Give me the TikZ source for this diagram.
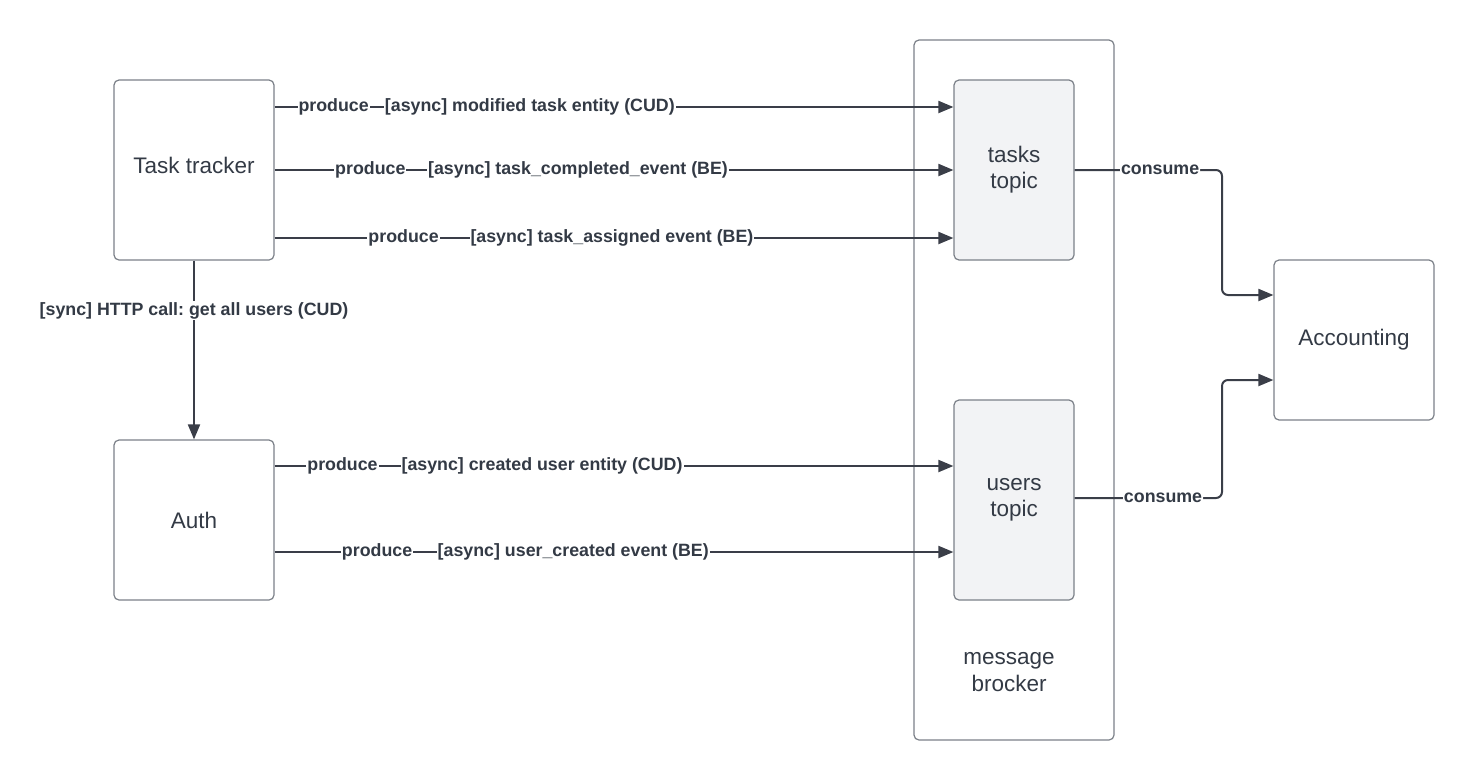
\documentclass[tikz,border=0pt]{standalone}
\usepackage{fontspec}
\setmainfont{Liberation Sans}
\usetikzlibrary{arrows.meta}
\frenchspacing

\definecolor{lineclr}{HTML}{3A3E48}
\definecolor{boxclr}{HTML}{7B8088}
\definecolor{topicfill}{HTML}{F2F3F5}
\definecolor{txtclr}{HTML}{333A45}

\tikzset{
    service/.style={draw=boxclr, line width=1.2pt, rounded corners=5pt,
        text=txtclr, font=\fontsize{22.5}{26}\selectfont, align=center},
    topic/.style={service, fill=topicfill},
    flow/.style={draw=lineclr, line width=2pt, -{Triangle[length=15pt,width=12pt]}},
    flowlabel/.style={fill=white, inner sep=1pt, text=txtclr,
        font=\bfseries\fontsize{17.8}{20}\selectfont}
}

\begin{document}
\begin{tikzpicture}[x=1pt, y=-1pt]

    \useasboundingbox (0,0) rectangle (1474,780);

    % Draw the broker frame and its caption
    \node[service, minimum width=200pt, minimum height=700pt] (broker) at (1014,390) {};
    \node[text=txtclr, font=\fontsize{22.5}{27}\selectfont, align=center] (brokerlabel) at (1009,672) {message\\brocker};

    % Draw the services
    \node[service, minimum width=160pt, minimum height=180pt, text depth=10pt] (tracker) at (194,170) {Task tracker};
    \node[service, minimum width=160pt, minimum height=160pt] (auth) at (194,520) {Auth};
    \node[service, minimum width=160pt, minimum height=160pt] (accounting) at (1354,340) {Accounting};

    % Draw the topics
    \node[topic, minimum width=120pt, minimum height=180pt] (tasks) at (1014,170) {tasks\\topic};
    \node[topic, minimum width=120pt, minimum height=200pt] (users) at (1014,500) {users\\topic};

    % Task tracker produces to tasks topic
    \draw[flow] (tracker.east |- 0,107) -- (tasks.west |- 0,107)
        node[flowlabel, pos=0.087] {produce}
        node[flowlabel, pos=0.376] {[async] modified task entity (CUD)};
    \draw[flow] (tracker.east |- 0,170) -- (tasks.west |- 0,170)
        node[flowlabel, pos=0.141] {produce}
        node[flowlabel, pos=0.447] {[async] task\_completed\_event (BE)};
    \draw[flow] (tracker.east |- 0,238) -- (tasks.west |- 0,238)
        node[flowlabel, pos=0.19] {produce}
        node[flowlabel, pos=0.497] {[async] task\_assigned event (BE)};

    % Sync call from Task tracker to Auth
    \draw[flow] (tracker.south) -- (auth.north)
        node[flowlabel, pos=0.28] {[sync] HTTP call: get all users (CUD)};

    % Auth produces to users topic
    \draw[flow] (auth.east |- 0,466) -- (users.west |- 0,466)
        node[flowlabel, pos=0.1] {produce}
        node[flowlabel, pos=0.394] {[async] created user entity (CUD)};
    \draw[flow] (auth.east |- 0,552) -- (users.west |- 0,552)
        node[flowlabel, pos=0.151] {produce}
        node[flowlabel, pos=0.44] {[async] user\_created event (BE)};

    % Accounting consumes both topics
    \draw[flow, rounded corners=6pt] (tasks.east) -- (1222,170) node[flowlabel, pos=0.58] {consume}
        |- ([yshift=45pt]accounting.west);
    \draw[flow, rounded corners=6pt] (users.east |- 0,498) -- (1222,498) node[flowlabel, pos=0.6] {consume}
        |- ([yshift=-40pt]accounting.west);

\end{tikzpicture}
\end{document}
